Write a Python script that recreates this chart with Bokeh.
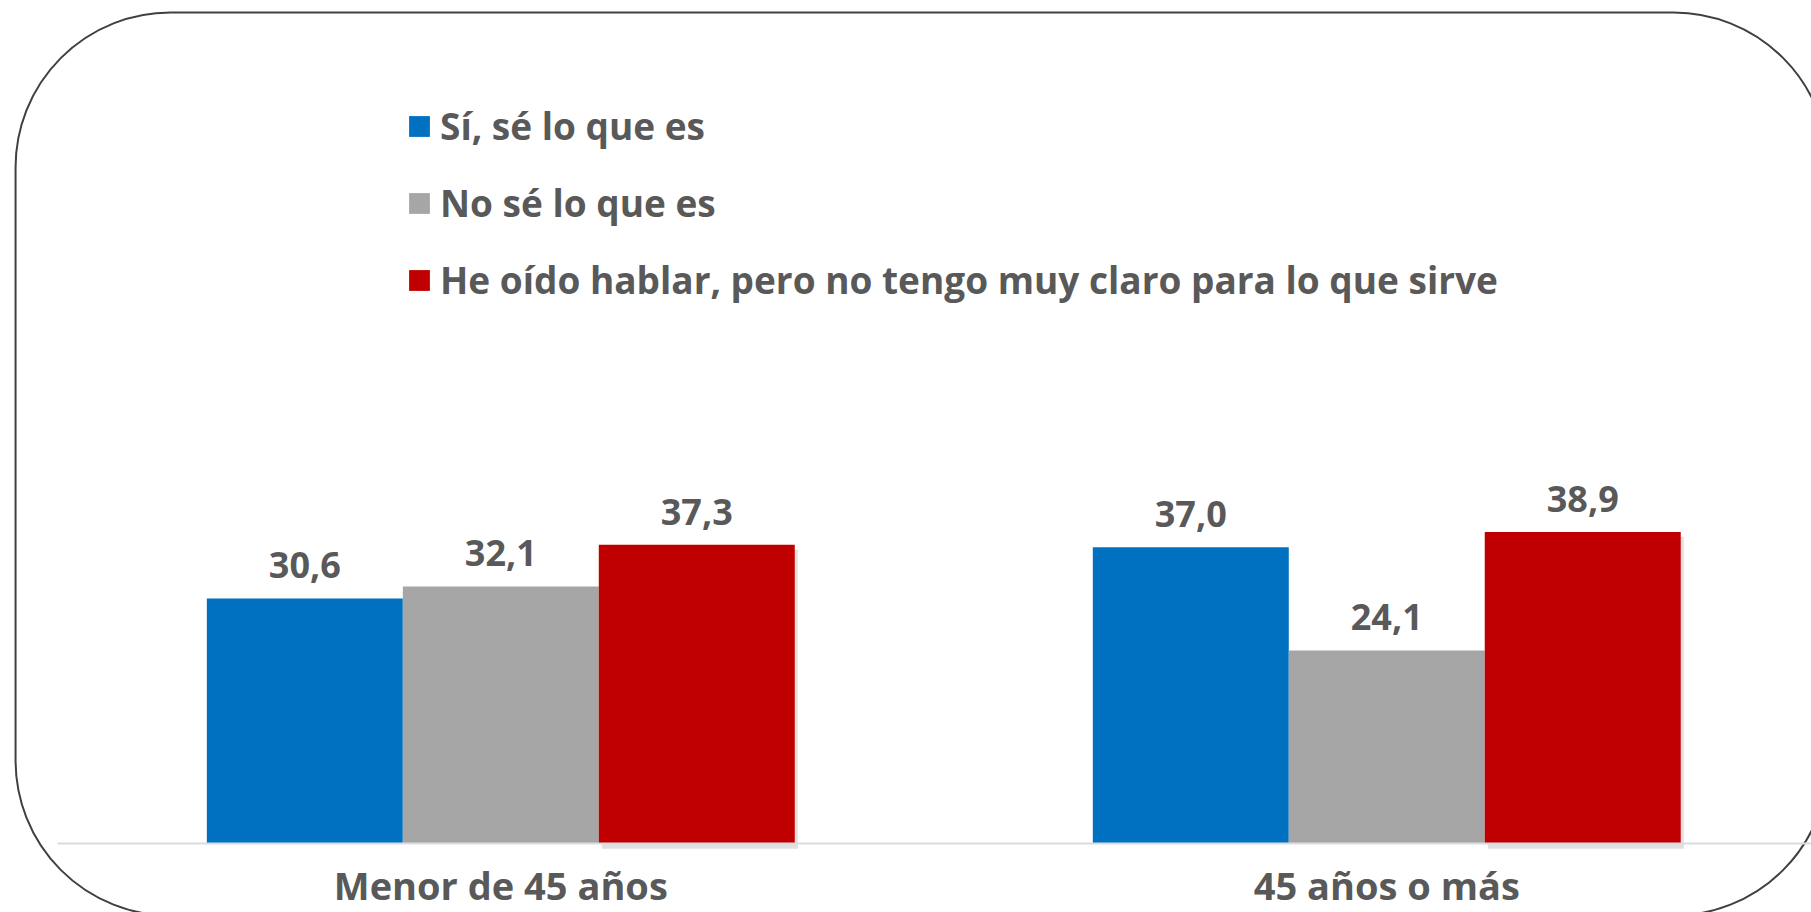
from bokeh.plotting import figure
from bokeh.models import Range1d, ColumnDataSource, Legend, LegendItem, FixedTicker
from bokeh.transform import dodge
from bokeh.core.properties import value
from bokeh.embed import file_html
from bokeh.resources import INLINE

# ---- data ----
categories = ["Menor de 45 años", "45 años o más"]
series_names = ["Sí, sé lo que es", "No sé lo que es",
                "He oído hablar, pero no tengo muy claro para lo que sirve"]
si_values = [30.6, 37.0]
no_values = [32.1, 24.1]
oido_values = [37.3, 38.9]
series_colors = ["#0070C0", "#A6A6A6", "#C00000"]

# ---- layout constants ----
W, H = 1811, 912
BAR_W = 0.2212
TEXT = "#595959"
FONT = "Open Sans"

x_pos = [i + 0.5 for i in range(len(categories))]
fmt = lambda v: f"{v:.1f}".replace(".", ",")

src = ColumnDataSource(dict(
    x=x_pos,
    si=si_values, no=no_values, oido=oido_values,
    si_lbl=[fmt(v) for v in si_values],
    no_lbl=[fmt(v) for v in no_values],
    oido_lbl=[fmt(v) for v in oido_values],
    oido_shadow=[v - 0.6 for v in oido_values],
))

p = figure(width=W, height=H, output_backend="svg", toolbar_location=None,
           x_range=Range1d(-0.0647, 1.9794), y_range=Range1d(-8.66, 105.34),
           min_border=0, outline_line_color=None,
           background_fill_color="white", border_fill_color="white")
p.grid.visible = False
p.yaxis.visible = False

# rounded frame around the chart
p.quad(left=[-0.0477], right=[1.9985], top=[103.84], bottom=[-9.04],
       border_radius=155, fill_color=None, line_color="#404040", line_width=2)

# bars
cols = ["si", "no", "oido"]
offsets = [-BAR_W, 0.0, BAR_W]
renderers = []
# soft shadow for red bars
p.vbar(x=dodge("x", BAR_W + 0.0035, range=p.x_range), top="oido_shadow", bottom=-0.7,
       width=BAR_W, source=src, fill_color="#000000", fill_alpha=0.12, line_color=None)
for col, off, color in zip(cols, offsets, series_colors):
    r = p.vbar(x=dodge("x", off, range=p.x_range), top=col, bottom=0, width=BAR_W,
               source=src, fill_color=color, line_color=None)
    renderers.append(r)
    p.text(x=dodge("x", off, range=p.x_range), y=col, text=col + "_lbl", source=src,
           text_align="center", text_baseline="alphabetic", y_offset=-33,
           text_font=value(FONT), text_font_style="bold", text_font_size="36px",
           text_color=TEXT)

# x axis at baseline
ax = p.xaxis[0]
ax.fixed_location = 0
ax.bounds = (0, 2)
ax.ticker = FixedTicker(ticks=x_pos)
ax.major_label_overrides = {x: c for x, c in zip(x_pos, categories)}
ax.axis_line_color = "#D9DCE3"
ax.axis_line_width = 2
ax.major_tick_line_color = None
ax.minor_tick_line_color = None
ax.major_label_standoff = 10
ax.major_label_text_font = FONT
ax.major_label_text_font_style = "bold"
ax.major_label_text_font_size = "38px"
ax.major_label_text_color = TEXT

# legend
legend = Legend(items=[LegendItem(label=n, renderers=[r]) for n, r in zip(series_names, renderers)],
                location=(406, 607), orientation="vertical",
                glyph_width=26, glyph_height=26, label_height=26, label_standoff=8,
                spacing=26, padding=0, margin=0,
                border_line_color=None, background_fill_alpha=0,
                label_text_font=FONT, label_text_font_style="bold",
                label_text_font_size="37px", label_text_color=TEXT)
p.add_layout(legend, "center")

open("out.html", "w").write(file_html(p, INLINE))
